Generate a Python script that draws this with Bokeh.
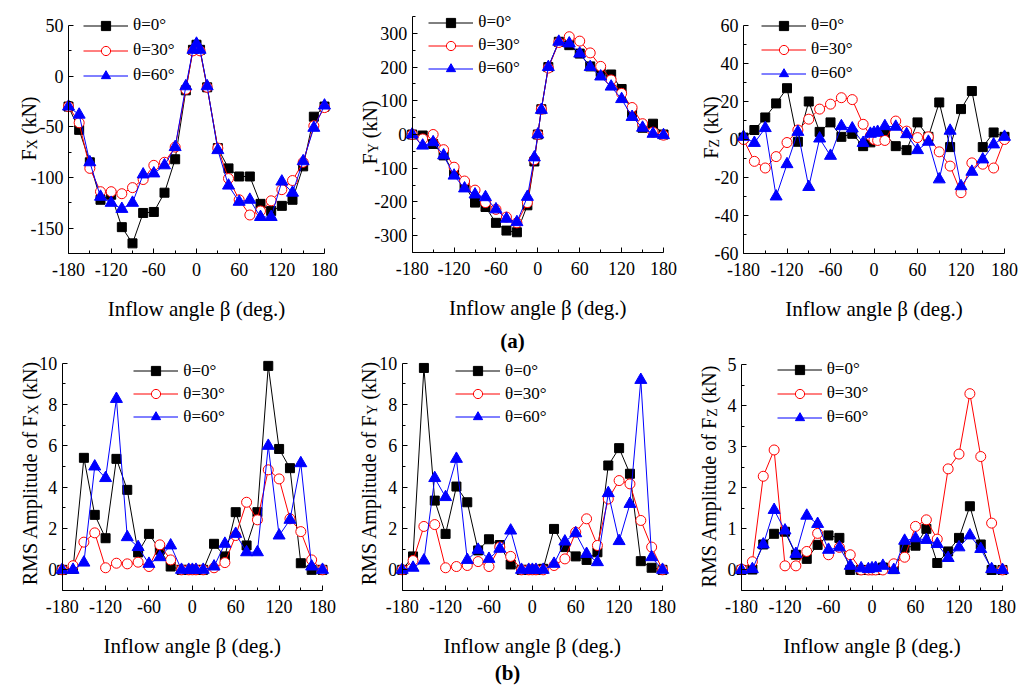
import math
from bokeh.plotting import figure
from bokeh.models import Range1d, FixedTicker, Legend, LegendItem, Label
from bokeh.layouts import row, column
from bokeh.embed import file_html
from bokeh.resources import INLINE

# ---------------- data ----------------
beta = [-180, -165, -150, -135, -120, -105, -90, -75, -60, -45, -30, -15, -5, 0, 5,
        15, 30, 45, 60, 75, 90, 105, 120, 135, 150, 165, 180]
series_names = ["θ=0°", "θ=30°", "θ=60°"]
x_ticks = [-180, -120, -60, 0, 60, 120, 180]
x_minor = [-150, -90, -30, 30, 90, 150]
x_title = "Inflow angle β (deg.)"

fx_0 = [-30, -53, -85, -122, -117, -149, -165, -135, -134, -115, -82, -14, 26, 31, 26,
        -11, -71, -91, -99, -99, -126, -133, -128, -122, -89, -40, -30]
fx_30 = [-30, -46, -91, -114, -114, -116, -110, -102, -88, -85, -70, -13, 25, 29, 25,
         -11, -71, -101, -122, -137, -133, -123, -112, -103, -85, -49, -31]
fx_60 = [-30, -38, -85, -119, -125, -131, -125, -97, -96, -88, -70, -10, 26, 32, 26,
         -10, -73, -108, -124, -122, -139, -139, -104, -115, -84, -51, -29]

fy_0 = [0, -3, -28, -62, -115, -150, -202, -215, -262, -285, -290, -210, -80, 0, 75,
        200, 275, 265, 240, 202, 185, 178, 135, 65, 20, 32, 0]
fy_30 = [0, -13, 0, -45, -97, -138, -165, -202, -222, -245, -262, -202, -75, 0, 75,
         197, 273, 290, 277, 242, 202, 162, 122, 80, 32, 7, -2]
fy_60 = [0, -33, -23, -62, -122, -160, -178, -186, -222, -250, -260, -185, -68, 0, 73,
         200, 275, 270, 240, 200, 172, 142, 105, 52, 20, 2, -2]

fz_0 = [1, 5, 11.6, 19, 27, -1.2, 20, 4, 9, 1.4, 3, -3.5, -1.5, 1, 2,
        3, -3.5, -5.6, 9, 1.4, 19.5, -4, 16, 25.5, -4, 3.7, 1.4]
fz_30 = [0, -11.5, -15, -9, -1.6, 5, 10.7, 16, 18.6, 22, 21, 8, 2, 0, -0.5,
         -0.5, 9.7, 4.4, 1, 1.4, -6.5, -14, -28, -12.3, -13, -15, 0]
fz_60 = [1.4, -1.8, 6, -30, -13, 4, -25, 0.5, -8.6, 7, 5.8, -1.8, 3, 3.5, 4,
         7, 6.7, 2.8, -5.6, -1.2, -21, 4.6, -24.6, -17, -10.5, -2.6, 1.4]

rfx_0 = [0, 0.05, 5.42, 2.66, 1.53, 5.37, 3.87, 0.84, 1.74, 0.97, 0.16, 0, 0, 0, 0,
         0, 1.26, 0.65, 2.79, 1.18, 2.79, 9.87, 5.85, 4.92, 0.32, 0, 0]
rfx_30 = [0, 0.2, 1.34, 1.79, 0.1, 0.32, 0.29, 0.37, 0.16, 1.21, 0.48, 0, 0, 0, 0,
          0, 0.1, 0.35, 1.66, 3.27, 2.42, 4.84, 4.4, 2.47, 1.85, 0.48, 0]
rfx_60 = [0, 0, 0.35, 5.0, 4.44, 8.27, 1.58, 1.1, 0.29, 0.61, 1.18, 0, 0, 0, 0,
          0, 0.16, 1.26, 1.74, 0.85, 0.85, 6.0, 1.66, 2.42, 5.16, 0.16, 0]

rfy_0 = [0, 0.65, 9.77, 3.35, 1.74, 4.03, 3.27, 0.94, 1.48, 1.2, 0.26, 0, 0, 0, 0,
         0.05, 1.98, 1.1, 0.65, 0.48, 0.85, 5.05, 5.89, 4.65, 0.42, 0.1, 0]
rfy_30 = [0, 0.45, 2.1, 2.19, 0.1, 0.16, 0.21, 0.4, 0.16, 1.1, 0.65, 0, 0, 0, 0,
          0, 0.21, 0.53, 1.82, 2.47, 1.18, 3.43, 4.32, 4.16, 2.39, 1.1, 0]
rfy_60 = [0, 0.1, 0.45, 4.44, 3.52, 5.37, 0.48, 0.97, 0.53, 1.02, 1.9, 0, 0, 0, 0,
          0, 0.29, 1.37, 1.77, 0.77, 0.37, 3.71, 1.39, 3.19, 9.19, 0.61, 0]

rfz_0 = [0, 0.01, 0.62, 0.88, 0.93, 0.37, 0.27, 0.61, 0.84, 0.78, 0, 0, 0, 0, 0,
         0.06, 0.02, 0.54, 0.59, 1.0, 0.17, 0.45, 0.78, 1.55, 0.62, 0, 0]
rfz_30 = [0.02, 0.2, 2.28, 2.92, 0.1, 0.1, 0.45, 0.89, 0.37, 0.55, 0.37, 0, 0, 0, 0,
          0, 0.15, 0.31, 1.06, 1.22, 0.75, 2.46, 2.82, 4.29, 2.76, 1.14, 0]
rfz_60 = [0, 0.02, 0.62, 1.46, 0.96, 0.39, 1.32, 1.12, 0.49, 0.55, 0.1, 0.04, 0.02, 0.04, 0.05,
          0.1, 0, 0.71, 0.77, 0.73, 0.63, 0.29, 0.55, 0.84, 0.51, 0.02, 0]

# ---------------- style ----------------
FONT = "Liberation Serif"
COLORS = ["#000000", "#ff0000", "#0000ff"]
MARKERS = ["square", "circle", "triangle"]
MSIZE = [9, 10, 12]
FILLS = ["#000000", "#ffffff", "#0000ff"]


def text_w(s, px):
    w = {"F": .556, "X": .722, "Y": .722, "Z": .611, " ": .25, "(": .333, ")": .333,
         "k": .5, "N": .722, "R": .667, "M": .889, "S": .556, "A": .722, "m": .778,
         "p": .5, "l": .278, "i": .278, "t": .278, "u": .5, "d": .5, "e": .444,
         "o": .5, "f": .333}
    return sum(w.get(c, .5) for c in s) * px


def fmt(v):
    return "%g" % v


def panel(ys, ylim, y_major, y_minor, W, H, L, R, T, B,
          leg_x, leg_first, leg_pitch, lab_main, lab_sub, lab_bx, lab_cy,
          tag=None, tag_xy=None):
    ymin, ymax = ylim
    sx = (R - L) / 360.0
    sy = (B - T) / float(ymax - ymin)
    x0 = -180 - L / sx
    x1 = 180 + (W - R) / sx
    y0 = ymin - (H - B) / sy
    y1 = ymax + T / sy

    def px2x(px):
        return x0 + px / sx

    def py2y(py):
        return y1 - py / sy

    p = figure(width=W, height=H, output_backend="svg", toolbar_location=None,
               title=None, x_range=Range1d(x0, x1), y_range=Range1d(y0, y1),
               min_border_left=0, min_border_right=0, min_border_top=0,
               min_border_bottom=0)
    p.outline_line_color = None
    p.xgrid.visible = False
    p.ygrid.visible = False
    p.background_fill_color = "white"
    p.border_fill_color = "white"

    items = []
    for i, y in enumerate(ys):
        ln = p.line(beta, y, line_color=COLORS[i], line_width=1)
        mk = p.scatter(beta, y, marker=MARKERS[i], size=MSIZE[i],
                       line_color=COLORS[i], fill_color=FILLS[i], line_width=1)
        items.append(LegendItem(label=series_names[i], renderers=[ln, mk]))

    for ax in (p.xaxis[0], p.yaxis[0]):
        ax.axis_line_color = "black"
        ax.axis_line_width = 1
        ax.major_tick_in = 5
        ax.major_tick_out = 0
        ax.minor_tick_in = 3
        ax.minor_tick_out = 0
        ax.major_label_text_font = FONT
        ax.major_label_text_font_size = "18px"
        ax.major_label_text_color = "black"
    p.xaxis.fixed_location = ymin
    p.xaxis.bounds = (-180, 180)
    p.yaxis.fixed_location = -180
    p.yaxis.bounds = (ymin, ymax)
    p.xaxis.ticker = FixedTicker(ticks=x_ticks, minor_ticks=x_minor)
    p.xaxis.major_label_overrides = {t: fmt(t) for t in x_ticks}
    p.xaxis.major_label_standoff = 9
    p.yaxis.ticker = FixedTicker(ticks=y_major, minor_ticks=y_minor)
    p.yaxis.major_label_overrides = {t: fmt(t) for t in y_major}
    p.yaxis.major_label_standoff = 5

    # x-axis title
    p.add_layout(Label(x=0, y=py2y(B + 55), text=x_title, text_font=FONT,
                       text_font_size="21px", text_align="center",
                       text_baseline="middle", text_color="black"))

    # legend (frame == canvas, location from bottom-left in pixels)
    gh = 23
    sp = max(0, int(round(leg_pitch - gh)))
    leg_h = 3 * gh + 2 * sp
    leg = Legend(items=items, location=(leg_x, H - (leg_first - gh / 2) - leg_h),
                 orientation="vertical", glyph_width=45, glyph_height=gh,
                 label_height=20, spacing=sp, padding=0, margin=0,
                 label_standoff=5, label_text_font=FONT, label_text_font_size="17px",
                 label_text_color="black", label_text_baseline="middle",
                 border_line_color=None, background_fill_alpha=0)
    p.add_layout(leg)

    # rotated y-axis label: main text, subscript, space, unit
    fs, fsub = 20, 14
    unit = "(kN)"
    w1 = text_w(lab_main, fs)
    w2 = text_w(lab_sub, fsub)
    wsp = text_w(" ", fs)
    w3 = text_w(unit, fs)
    total = w1 + w2 + wsp + w3
    start = lab_cy + total / 2
    pieces = [(lab_main, fs, 0, w1), (lab_sub, fsub, 4, w2 + wsp), (unit, fs, 0, w3)]
    for txt, size, off, w in pieces:
        p.add_layout(Label(x=px2x(lab_bx + off), y=py2y(start),
                           text=txt, angle=math.pi / 2, text_font=FONT,
                           text_font_size=f"{size}px", text_align="left",
                           text_baseline="alphabetic", text_color="black"))
        start -= w

    if tag is not None:
        tx, ty = tag_xy
        p.add_layout(Label(x=px2x(tx), y=py2y(ty), text=tag, text_font=FONT,
                           text_font_size="21px", text_font_style="bold",
                           text_align="center", text_baseline="middle",
                           text_color="black"))
    return p


H1, H2 = 353, 337
top0 = 353  # page y where the lower row starts

p1 = panel([fx_0, fx_30, fx_60], (-175, 50), [-150, -100, -50, 0, 50],
           [-175, -125, -75, -25, 25], 340, H1, 68, 324, 25, 253,
           83, 25.3, 25.3, "F", "X", 28, 128)
p2 = panel([fy_0, fy_30, fy_60], (-350, 350), [-300, -200, -100, 0, 100, 200, 300],
           [-350, -250, -150, -50, 50, 150, 250, 350], 340, H1, 71.7, 323, 16, 252,
           88.3, 22, 22.3, "F", "Y", 29, 132, tag="(a)", tag_xy=(172, 340))
p3 = panel([fz_0, fz_30, fz_60], (-60, 60), [-60, -40, -20, 0, 20, 40, 60],
           [-50, -30, -10, 10, 30, 50], 344, H1, 63, 324, 25, 253,
           81, 25.3, 24, "F", "Z", 30, 127)

p4 = panel([rfx_0, rfx_30, rfx_60], (-1, 10), [0, 2, 4, 6, 8, 10],
           [-1, 1, 3, 5, 7, 9], 340, H2, 61.7, 322, 362.7 - top0, 590 - top0,
           133.3, 370.7 - top0, 23, "RMS Amplitude of F", "X", 29, 473 - top0)
p5 = panel([rfy_0, rfy_30, rfy_60], (-1, 10), [0, 2, 4, 6, 8, 10],
           [-1, 1, 3, 5, 7, 9], 340, H2, 61.7, 322, 362.7 - top0, 590 - top0,
           115, 370.7 - top0, 23, "RMS Amplitude of F", "Y", 28, 473 - top0,
           tag="(b)", tag_xy=(167, 672 - top0))
p6 = panel([rfz_0, rfz_30, rfz_60], (-0.5, 5), [0, 1, 2, 3, 4, 5],
           [-0.5, 0.5, 1.5, 2.5, 3.5, 4.5], 344, H2, 61, 322, 364 - top0, 590 - top0,
           96.7, 369.3 - top0, 23.7, "RMS Amplitude of F", "Z", 28, 476 - top0)

layout = column(row(p1, p2, p3, spacing=0), row(p4, p5, p6, spacing=0), spacing=0)

open("out.html", "w").write(file_html(layout, INLINE))
